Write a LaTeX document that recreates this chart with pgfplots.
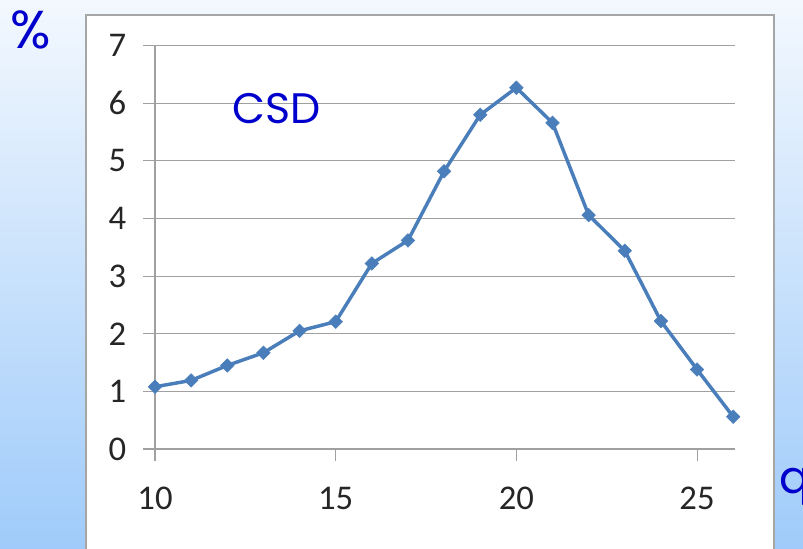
\documentclass[border=0pt]{standalone}
\usepackage{pgfplots}
\pgfplotsset{compat=1.18}
\usepackage{fontspec}
\setmainfont{Carlito}
\newfontfamily\comic{Poppins}
\definecolor{bgtop}{HTML}{F3F8FE}
\definecolor{bgbot}{HTML}{9FCBFA}
\definecolor{lineblue}{HTML}{4A7EBB}
\definecolor{txtblue}{HTML}{0000CC}
\definecolor{gridgray}{HTML}{A0A0A0}
\begin{document}
\begin{tikzpicture}[x=0.75pt,y=0.75pt]
\useasboundingbox (0,0) rectangle (803,549);
\shade[top color=bgtop, bottom color=bgbot] (0,0) rectangle (803,549);
\fill[white] (86,-5) rectangle (774,534);
\draw[gray!70, line width=0.8pt] (86,-5) -- (86,534) -- (774,534) -- (774,-5);
\begin{axis}[
  at={(116.25pt,75pt)}, anchor=origin,
  scale only axis,
  width=435pt, height=302.5pt,
  xmin=10, xmax=26.05, ymin=0, ymax=7,
  axis x line*=bottom, axis y line*=left,
  axis line style={gridgray, line width=0.8pt, -},
  xtick={10,15,20,25}, ytick={0,1,...,7},
  tick align=outside,
  major tick length=9pt,
  tick style={gridgray, line width=0.8pt},
  ymajorgrids,
  grid style={gridgray, line width=0.8pt},
  /pgf/number format/assume math mode=true,
  ticklabel style={font=\fontsize{26}{28}\selectfont, text=black!85},
  yticklabel style={xshift=-9pt},
  xticklabel style={yshift=-16pt},
  clip=false,
]
\addplot[lineblue, line width=2.6pt, mark=square*, mark size=3.6pt,
  mark options={fill=lineblue, draw=lineblue, line width=0.4pt, rotate=45}]
  coordinates {
  (10,1.08) (11,1.19) (12,1.45) (13,1.67) (14,2.05) (15,2.21)
  (16,3.22) (17,3.62) (18,4.82) (19,5.80) (20,6.27) (21,5.66)
  (22,4.06) (23,3.44) (24,2.22) (25,1.38) (26,0.56)
  };
\end{axis}
\node[anchor=center, text=txtblue, font=\comic\fontsize{32}{36}\selectfont] at (277,440) {CSD};
\node[anchor=center, text=txtblue, font=\comic\fontsize{40}{42}\selectfont] at (31,519) {\%};
\node[anchor=west, inner sep=0pt, text=txtblue, font=\comic\fontsize{34}{36}\selectfont] at (779,62) {q};
\end{tikzpicture}
\end{document}
